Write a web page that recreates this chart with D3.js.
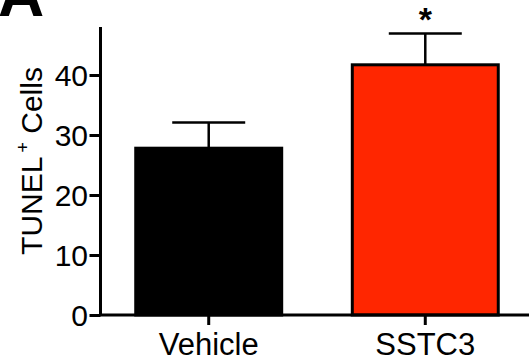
<!DOCTYPE html>
<html><head><meta charset="utf-8">
<script src="https://cdn.jsdelivr.net/npm/d3@7"></script>
<style>html,body{margin:0;padding:0;background:#fff;}svg{display:block;font-family:"Liberation Sans",Arial,sans-serif;}</style>
</head><body>
<svg id="c" width="529" height="364"></svg>
<script>
const categories = ["Vehicle", "SSTC3"];
const means = [27.8, 41.7];
const errors = [4.3, 5.2];
const yTicks = [0, 10, 20, 30, 40];
const colors = ["#000000", "#ff2600"];
const significance = ["", "*"];

const svg = d3.select("#c");
const x = d3.scaleBand().domain(categories).range([100, 534]).paddingInner(0.326).paddingOuter(0.165);
const y = d3.scaleLinear().domain([0, 48]).range([315, 27]);

// bars
svg.selectAll("rect.bar").data(categories).join("rect")
  .attr("x", d => x(d)).attr("width", x.bandwidth())
  .attr("y", (d, i) => y(means[i])).attr("height", (d, i) => y(0) - y(means[i]))
  .attr("fill", (d, i) => colors[i]).attr("stroke", "#000").attr("stroke-width", 3);

// error bars
const cap = x.bandwidth() * 0.5;
categories.forEach((d, i) => {
  const cx = x(d) + x.bandwidth() / 2;
  const top = y(means[i] + errors[i]);
  svg.append("line").attr("x1", cx).attr("x2", cx).attr("y1", y(means[i])).attr("y2", top)
    .attr("stroke", "#000").attr("stroke-width", 2.5);
  svg.append("line").attr("x1", cx - cap / 2).attr("x2", cx + cap / 2).attr("y1", top).attr("y2", top)
    .attr("stroke", "#000").attr("stroke-width", 2.5);
  if (significance[i]) {
    svg.append("text").attr("x", cx).attr("y", top - 3)
      .attr("text-anchor", "middle").attr("font-size", 34).attr("font-weight", "bold").text(significance[i]);
  }
});

// y axis
const yAxis = svg.append("g").attr("transform", "translate(100.5,0)")
  .call(d3.axisLeft(y).tickValues(yTicks).tickSize(11).tickPadding(1.5).tickFormat(d3.format("d")));
yAxis.select(".domain").attr("d", `M0,${y(48)}V${y(0)}`).attr("stroke-width", 3);
yAxis.selectAll(".tick line").attr("stroke-width", 3);
yAxis.selectAll(".tick text").attr("font-size", 30).attr("fill", "#000").attr("dy", "0.36em")
  .attr("font-family", "Liberation Sans, Arial, sans-serif");

// x axis
const xAxis = svg.append("g").attr("transform", `translate(0,${y(0)})`)
  .call(d3.axisBottom(x).tickSize(10).tickPadding(8));
xAxis.select(".domain").attr("d", "M99,0H529").attr("stroke-width", 3);
xAxis.selectAll(".tick line").attr("stroke-width", 3);
xAxis.selectAll(".tick text").attr("font-size", 31).attr("fill", "#000")
  .attr("font-family", "Liberation Sans, Arial, sans-serif");

// y label
const yl = svg.append("text").attr("transform", "translate(42,161) rotate(-90)")
  .attr("text-anchor", "middle").attr("font-size", 30).attr("fill", "#000");
yl.append("tspan").text("TUNEL");
yl.append("tspan").text("+").attr("font-size", 18).attr("baseline-shift", "75%").attr("dx", 4);
yl.append("tspan").text(" Cells").attr("dx", 0);

// panel letter
svg.append("text").attr("x", -2).attr("y", 16).attr("font-size", 64).attr("font-weight", "bold").text("A");
</script>
</body></html>
